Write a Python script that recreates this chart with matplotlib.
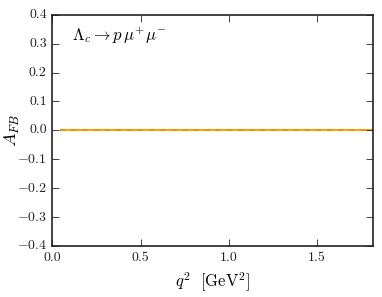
import matplotlib
matplotlib.use("Agg")
import matplotlib.pyplot as plt
import numpy as np

plt.style.use("classic")
plt.rcParams["font.family"] = "serif"
plt.rcParams["font.serif"] = ["cmr10", "DejaVu Serif"]
plt.rcParams["mathtext.fontset"] = "cm"
plt.rcParams["axes.formatter.use_mathtext"] = True
plt.rcParams["axes.unicode_minus"] = True

# q^2 range for Lambda_c -> p mu+ mu-
q2 = [0.0447, 1.817]
afb_sm = [0.0, 0.0]
afb_np = [0.0, 0.0]
xlim = (0.0, 1.817)
ylim = (-0.4, 0.4)
xticks = [0.0, 0.5, 1.0, 1.5]
yticks = [-0.4, -0.3, -0.2, -0.1, 0.0, 0.1, 0.2, 0.3, 0.4]

fig = plt.figure(figsize=(3.82, 2.97), dpi=100, facecolor="white")
ax = fig.add_axes([0.137, 0.172, 0.839, 0.778])

ax.plot(q2, afb_sm, color="#ffa500", lw=1.5, solid_capstyle="butt")
ax.plot(q2, afb_np, color="#d08a20", lw=1.5, ls=(0, (4, 4)), alpha=0.6)

ax.set_xlim(*xlim)
ax.set_ylim(*ylim)
ax.set_xticks(xticks)
ax.set_yticks(yticks)
ax.set_xticklabels(["%.1f" % t for t in xticks])
ax.set_yticklabels([("$-$%.1f" % abs(t)) if t < 0 else "%.1f" % t for t in yticks])
ax.tick_params(direction="in", length=5, width=0.6, labelsize=10, colors="#222222")
ax.tick_params(which="both", top=True, right=True)
for s in ax.spines.values():
    s.set_linewidth(1.2)
    s.set_color("#222222")

ax.set_xlabel(r"$q^2\ \ [\mathrm{GeV}^2]$", fontsize=12)
ax.set_ylabel(r"$A_{FB}$", fontsize=13)
ax.yaxis.set_label_coords(-0.095, 0.5)
ax.text(0.06, 0.955, r"$\Lambda_c \rightarrow p\,\mu^{+}\mu^{-}$", transform=ax.transAxes,
        fontsize=12, va="top", ha="left")

fig.savefig("out.png", dpi=100, facecolor="white")
